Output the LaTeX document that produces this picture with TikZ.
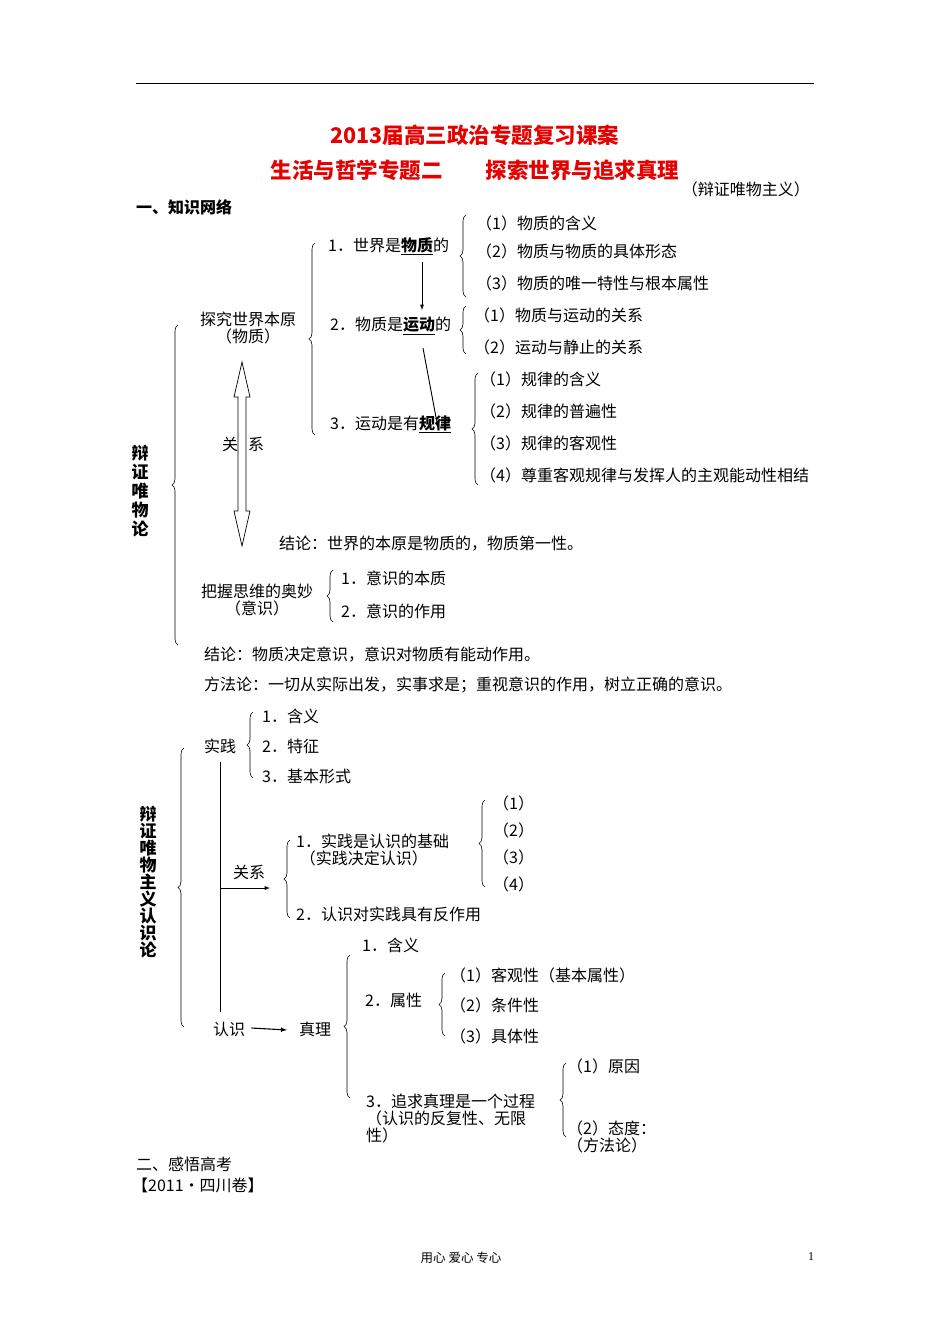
\documentclass[tikz,border=0pt]{standalone}
\usepackage{fontspec}
\setmainfont{Liberation Serif}
\newfontfamily\cjk{Noto Sans CJK SC}
\usetikzlibrary{decorations.pathreplacing}
\definecolor{tred}{RGB}{230,0,0}
\begin{document}
\begin{tikzpicture}[x=1pt,y=-1pt,
  every node/.style={inner sep=0pt,font=\cjk\fontsize{16}{19}\selectfont},
  t/.style={anchor=west},
  br/.style={decorate,decoration={brace,amplitude=6pt},line width=0.6pt},
  arr/.style={-latex,line width=0.9pt}]
\useasboundingbox (0,0) rectangle (950,1344);
\fill[white] (0,0) rectangle (950,1344);
\draw[line width=0.6pt] (136,83) -- (814,83);
\node[font=\cjk\bfseries\fontsize{21.5}{25}\selectfont,text=tred] (t1) at (475,135) {2013届高三政治专题复习课案};
\node[font=\cjk\bfseries\fontsize{21.5}{25}\selectfont,text=tred] (t2) at (475,170) {生活与哲学专题二\quad\quad 探索世界与追求真理};
\node[anchor=east] (sub) at (810,189) {（辩证唯物主义）};
\node[t,font=\cjk\bfseries\fontsize{16}{19}\selectfont] (h1) at (136,207) {一、知识网络};
% part 1
\node[font=\cjk\bfseries\fontsize{17}{20}\selectfont,align=center] (v1) at (140,491) {辩\\[-1pt]证\\[-1pt]唯\\[-1pt]物\\[-1pt]论};
\draw[br] (178,645) -- (178,325);
\node[align=center] (tj) at (248,328) {探究世界本原\\[-2pt]（物质）};
\draw[br] (315,435) -- (315,243);
\node[t] (w1) at (328,246) {1．世界是\textbf{\underline{物质}}的};
\node[t] (w2) at (330,326) {2．物质是\textbf{\underline{运动}}的};
\node[t] (w3) at (330,424) {3．运动是有\textbf{\underline{规律}}};
\draw[arr] (422,262) -- (422,310);
\draw[arr] (423,348) -- (438,428);
\draw[br] (466,297) -- (466,215);
\node[t] (a1) at (476,223) {（1）物质的含义};
\node[t] (a2) at (476,251) {（2）物质与物质的具体形态};
\node[t] (a3) at (476,283) {（3）物质的唯一特性与根本属性};
\draw[br] (466,354) -- (466,306);
\node[t] (b1) at (474,315) {（1）物质与运动的关系};
\node[t] (b2) at (474,347) {（2）运动与静止的关系};
\draw[br] (478,485) -- (478,373);
\node[t] (c1) at (480,379) {（1）规律的含义};
\node[t] (c2) at (480,411) {（2）规律的普遍性};
\node[t] (c3) at (480,443) {（3）规律的客观性};
\node[t] (c4) at (480,475) {（4）尊重客观规律与发挥人的主观能动性相结};
\draw[line width=0.7pt,fill=white] (242,362) -- (250,397) -- (246,397) -- (246,511) -- (250,511) -- (242,546) -- (234,511) -- (238,511) -- (238,397) -- (234,397) -- cycle;
\node (g1) at (230,444) {关};
\node (g2) at (256,444) {系};
\node[t] (k1) at (279,544) {结论：世界的本原是物质的，物质第一性。};
\node[align=center] (bw) at (257,600) {把握思维的奥妙\\[-2pt]（意识）};
\draw[br] (333,622) -- (333,570);
\node[t] (y1) at (341,578) {1．意识的本质};
\node[t] (y2) at (341,611) {2．意识的作用};
\node[t] (k2) at (204,655) {结论：物质决定意识，意识对物质有能动作用。};
\node[t] (k3) at (204,685) {方法论：一切从实际出发，实事求是；重视意识的作用，树立正确的意识。};
% part 2
\node[font=\cjk\bfseries\fontsize{17}{20}\selectfont,align=center] (v2) at (148,882) {辩\\[-3pt]证\\[-3pt]唯\\[-3pt]物\\[-3pt]主\\[-3pt]义\\[-3pt]认\\[-3pt]识\\[-3pt]论};
\draw[br] (184,1027) -- (184,748);
\node[t] (sj) at (204,746) {实践};
\draw[br] (253,778) -- (253,712);
\node[t] (s1) at (262,716) {1．含义};
\node[t] (s2) at (262,746) {2．特征};
\node[t] (s3) at (262,776) {3．基本形式};
\coordinate (vt) at (220,762);
\coordinate (vb) at (220,1012);
\draw[line width=0.7pt] (vt) -- (vb);
\coordinate (ga) at (220,888);
\coordinate (gb) at (270,888);
\draw[arr] (ga) -- (gb);
\node (gx) at (249,872) {关系};
\draw[br] (290,918) -- (290,840);
\node[t,align=left] (r1) at (296,850) {1．实践是认识的基础\\[-2pt]\ （实践决定认识）};
\node[t] (r2) at (296,914) {2．认识对实践具有反作用};
\draw[br] (485,887) -- (485,800);
\node[t] (q1) at (493,803) {（1）};
\node[t] (q2) at (493,830) {（2）};
\node[t] (q3) at (493,857) {（3）};
\node[t] (q4) at (493,884) {（4）};
\node[t] (rs) at (213,1029) {认识};
\node[t] (zl) at (299,1029) {真理};
\draw[arr,line width=1.1pt] (rs.east) ++(6,-1) -- ([xshift=-12pt,yshift=-1pt]zl.west);
\draw[br] (350,1098) -- (350,955);
\node[t] (z1) at (362,945) {1．含义};
\node[t] (z2) at (365,1000) {2．属性};
\node[t,align=left] (z3) at (366,1118) {3．追求真理是一个过程\\[-2pt]（认识的反复性、无限\\[-2pt]性）};
\draw[br] (445,1036) -- (445,973);
\node[t] (p1) at (450,975) {（1）客观性（基本属性）};
\node[t] (p2) at (450,1005) {（2）条件性};
\node[t] (p3) at (450,1036) {（3）具体性};
\draw[br] (566,1137) -- (566,1063);
\node[t] (o1) at (567,1066) {（1）原因};
\node[t,align=left] (o2) at (567,1137) {（2）态度：\\[-2pt]（方法论）};
\node[t] (h2) at (136,1164) {二、感悟高考};
\node[t] (h3) at (132,1185) {【2011·四川卷】};
\node[font=\cjk\fontsize{12.5}{14}\selectfont] (f1) at (461,1258) {用心 爱心 专心};
\node[font=\fontsize{12}{14}\selectfont] (f2) at (811,1257) {1};
\end{tikzpicture}
\end{document}
